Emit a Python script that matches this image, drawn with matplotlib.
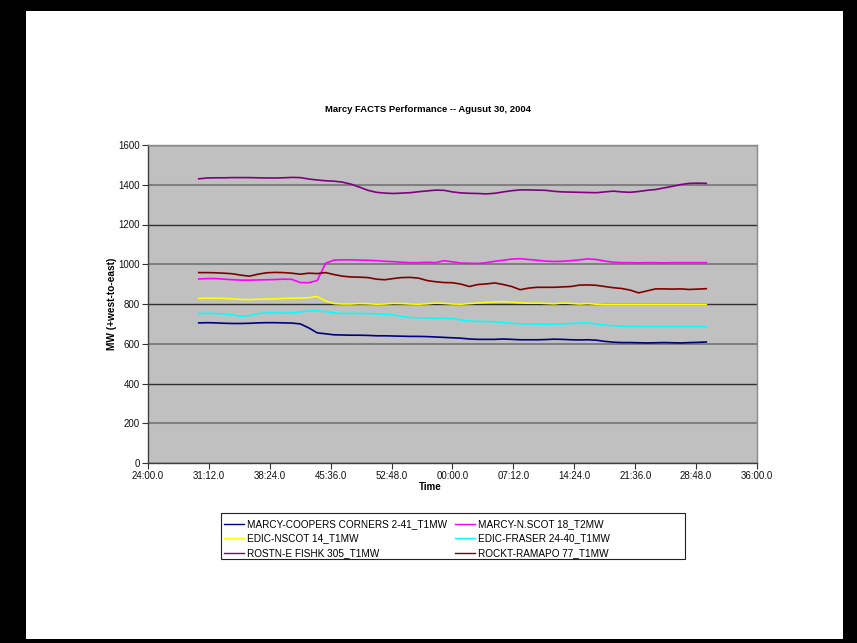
import numpy as np
import matplotlib
matplotlib.use("Agg")
import matplotlib.pyplot as plt
from matplotlib.patches import Rectangle
from matplotlib.lines import Line2D
from matplotlib.ticker import FuncFormatter

plt.rcParams['font.family'] = ['Liberation Sans', 'DejaVu Sans']

# Sample times in minutes since the top of the starting hour (one sample per minute)
time_min = np.arange(30, 91)

series_names = [
    "MARCY-COOPERS CORNERS 2-41_T1MW",
    "MARCY-N.SCOT 18_T2MW",
    "EDIC-NSCOT 14_T1MW",
    "EDIC-FRASER 24-40_T1MW",
    "ROSTN-E FISHK 305_T1MW",
    "ROCKT-RAMAPO 77_T1MW",
]
series_colors = ["#000080", "#FF00FF", "#FFFF00", "#00FFFF", "#800080", "#800000"]

marcy_coopers = [705, 706, 705, 703, 702, 702, 703, 705, 706, 706,
                 705, 704, 700, 680, 655, 650, 645, 644, 643, 643,
                 642, 640, 640, 639, 638, 637, 637, 636, 634, 632,
                 630, 628, 624, 622, 622, 622, 624, 622, 620, 620,
                 620, 621, 623, 622, 620, 619, 620, 618, 612, 608,
                 606, 606, 605, 604, 605, 606, 605, 604, 606, 607, 609]

marcy_nscot = [926, 928, 928, 925, 922, 920, 920, 921, 922, 923,
               925, 924, 908, 907, 918, 1005, 1021, 1022, 1022, 1021,
               1020, 1018, 1015, 1013, 1010, 1008, 1008, 1010, 1008, 1018,
               1012, 1006, 1005, 1004, 1008, 1015, 1020, 1026, 1028, 1024,
               1020, 1016, 1014, 1015, 1018, 1022, 1027, 1024, 1016, 1010,
               1008, 1008, 1007, 1008, 1008, 1007, 1008, 1008, 1008, 1008, 1008]

edic_nscot = [828, 830, 829, 828, 826, 823, 822, 824, 825, 826,
              828, 829, 830, 832, 838, 815, 802, 800, 800, 802,
              801, 799, 800, 803, 802, 800, 799, 801, 805, 803,
              800, 799, 802, 805, 808, 810, 812, 809, 806, 804,
              805, 803, 801, 805, 803, 800, 802, 799, 797, 797,
              797, 797, 797, 797, 797, 797, 797, 797, 797, 797, 797]

edic_fraser = [752, 753, 752, 750, 746, 738, 742, 752, 755, 755,
               754, 755, 760, 765, 766, 762, 755, 752, 753, 752,
               752, 750, 748, 745, 738, 732, 730, 730, 728, 728,
               726, 720, 714, 712, 712, 710, 707, 703, 700, 700,
               699, 698, 699, 700, 702, 704, 705, 700, 694, 690,
               688, 687, 687, 686, 686, 686, 686, 686, 686, 686, 686]

rostn_fishk = [1430, 1434, 1435, 1435, 1436, 1436, 1436, 1435, 1434, 1434,
               1435, 1437, 1436, 1429, 1424, 1420, 1418, 1413, 1403, 1388,
               1372, 1362, 1358, 1356, 1358, 1360, 1365, 1369, 1373, 1372,
               1364, 1359, 1357, 1356, 1354, 1357, 1364, 1370, 1374, 1374,
               1373, 1372, 1367, 1364, 1363, 1362, 1361, 1360, 1364, 1368,
               1364, 1362, 1366, 1372, 1376, 1384, 1392, 1401, 1407, 1408, 1407]

rockt_ramapo = [958, 958, 957, 955, 952, 945, 940, 950, 957, 959,
                958, 955, 950, 955, 953, 958, 948, 940, 936, 935,
                933, 925, 922, 928, 933, 934, 930, 918, 912, 908,
                907, 900, 888, 898, 901, 906, 898, 888, 872, 880,
                884, 884, 884, 886, 888, 895, 896, 894, 888, 882,
                878, 870, 856, 866, 876, 876, 875, 876, 873, 875, 877]

series_values = [marcy_coopers, marcy_nscot, edic_nscot,
                 edic_fraser, rostn_fishk, rockt_ramapo]

x_ticks = np.arange(24, 96.01, 7.2)
y_ticks = np.arange(0, 1601, 200)

W, H = 857, 643
fig = plt.figure(figsize=(W / 100, H / 100), dpi=100, facecolor="white")


def fx(px):
    return px / W


def fy(py):
    return 1 - py / H


# black page frame
for (x0, y0, x1, y1) in [(0, 0, 26, H), (0, 0, W, 11), (843, 0, W, H), (0, 639, W, H)]:
    fig.patches.append(Rectangle((fx(x0), fy(y1)), fx(x1) - fx(x0), fy(y0) - fy(y1),
                                 transform=fig.transFigure, facecolor="black",
                                 edgecolor="none", zorder=0))

ax = fig.add_axes([fx(148), fy(463), fx(757) - fx(148), fy(145) - fy(463)])
ax.set_facecolor("#C0C0C0")

for vals, color, name in zip(series_values, series_colors, series_names):
    ax.plot(time_min, vals, color=color, lw=1.2, label=name, zorder=3)

ax.set_xlim(24, 96)
ax.set_ylim(0, 1600)
ax.set_xticks(x_ticks)
ax.set_yticks(y_ticks)


def fmt_time(v, pos):
    secs = int(round(v * 60))
    m = (secs // 60) % 60
    s = secs % 60
    return f"{m:02d}:{s:02d}.0"


ax.xaxis.set_major_formatter(FuncFormatter(fmt_time))
ax.tick_params(axis="both", direction="out", length=4, width=0.8, color="#333333",
               labelsize=7, labelcolor="#111111", pad=2)

ax.set_axisbelow(True)
ax.grid(axis="y", lw=1.2, color="#7a7a7a")
for i, gl in enumerate(ax.get_ygridlines()):
    if i % 2 == 0:
        gl.set_color("#303030")
        gl.set_linewidth(1.0)
    else:
        gl.set_color("#808080")
        gl.set_linewidth(1.5)

for side in ["top", "right"]:
    ax.spines[side].set_color("#8a8a8a")
    ax.spines[side].set_linewidth(1.0)
for side in ["left", "bottom"]:
    ax.spines[side].set_color("#404040")
    ax.spines[side].set_linewidth(1.0)

fig.text(fx(428), fy(110), "Marcy FACTS Performance -- Agusut 30, 2004",
         ha="center", va="center", fontsize=6.8, fontweight="bold")
fig.text(fx(112), fy(304), "MW (+west-to-east)", rotation=90,
         ha="center", va="center", fontsize=7.3, fontweight="bold")
fig.text(fx(430), fy(487), "Time", ha="center", va="center",
         fontsize=7, fontweight="bold")

# legend frame and two-column entries, filled row by row
fig.patches.append(Rectangle((fx(221), fy(559)), fx(685) - fx(221), fy(513) - fy(559),
                             transform=fig.transFigure, facecolor="white",
                             edgecolor="#222222", lw=0.8, zorder=1))
order = [0, 2, 4, 1, 3, 5]
handles = [Line2D([], [], color=series_colors[i], lw=1.0) for i in order]
labels = [series_names[i] for i in order]
leg = fig.legend(handles, labels, ncol=2, loc="upper left",
                 bbox_to_anchor=(fx(216), fy(511)), frameon=False,
                 fontsize=7.2, handlelength=2.0, handletextpad=0.3,
                 columnspacing=0.75, labelspacing=0.45, borderpad=0.3)

fig.savefig("out.png", dpi=100, facecolor="white")
